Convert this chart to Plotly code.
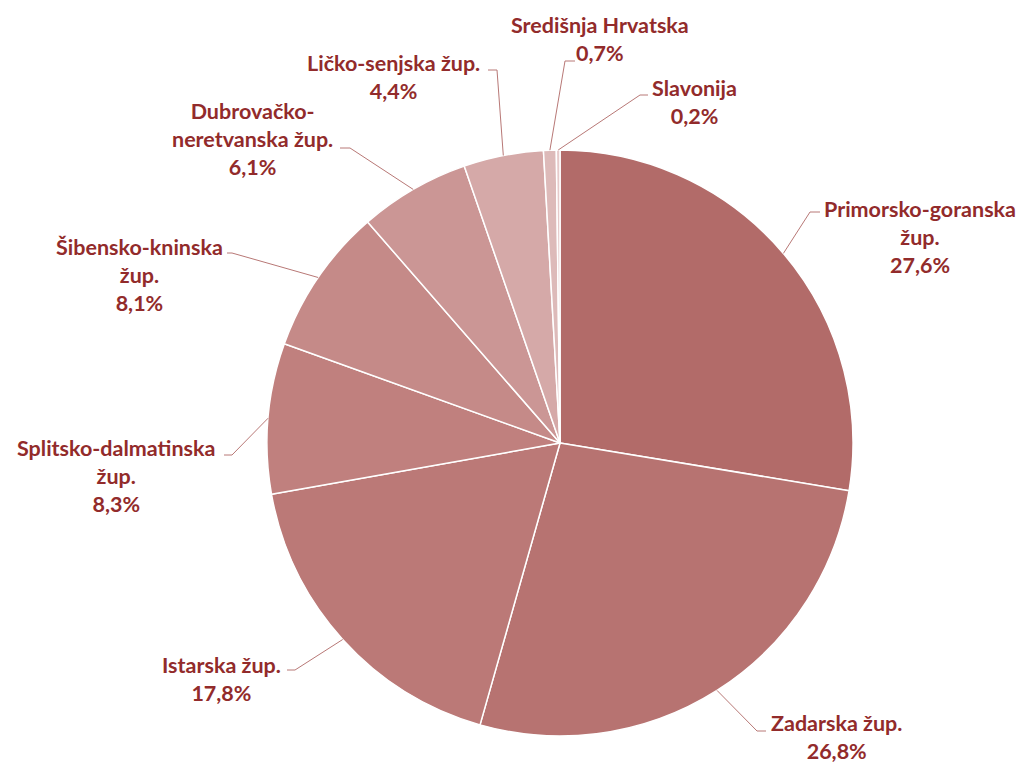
import math
import plotly.graph_objects as go

categories = ["Primorsko-goranska žup.", "Zadarska žup.", "Istarska žup.",
              "Splitsko-dalmatinska žup.", "Šibensko-kninska žup.",
              "Dubrovačko-neretvanska žup.", "Ličko-senjska žup.",
              "Središnja Hrvatska", "Slavonija"]
values = [27.6, 26.8, 17.8, 8.3, 8.1, 6.1, 4.4, 0.7, 0.2]
label_texts = ["Primorsko-goranska<br>žup.", "Zadarska žup.", "Istarska žup.",
               "Splitsko-dalmatinska<br>žup.", "Šibensko-kninska<br>žup.",
               "Dubrovačko-<br>neretvanska žup.", "Ličko-senjska žup.",
               "Središnja Hrvatska", "Slavonija"]
colors = ["#B26B69", "#B77371", "#BB7977", "#C0807E", "#C58A88",
          "#CB9695", "#D5A9A8", "#DDBAB9", "#E6CACA"]

# the page body has an 8px margin; work in window pixel coordinates
OFF = 8
WIN_W, WIN_H = 1026, 764
W, H = WIN_W - OFF, WIN_H - OFF
CX, CY, R = 560, 443, 293

# label layout (window pixels): elbow point, line end, text block centre
elbows = [(810, 212), (757, 731), (295, 670), (232, 455), (232, 253),
          (350, 148), (497, 70), (565, 61), (640, 95)]
ends = [(820, 212), (766, 731), (287, 670), (224, 455), (227, 253),
        (340, 148), (488, 70), (575, 61), (648, 95)]
text_pos = [(920, 237), (836, 737), (221, 679), (116, 476), (139, 275),
            (252, 139), (393, 77), (600, 39), (694, 102)]

fig = go.Figure()
fig.add_trace(go.Pie(
    labels=categories, values=values, sort=False, direction="clockwise",
    rotation=0, marker=dict(colors=colors, line=dict(color="white", width=1.5)),
    textinfo="none", hoverinfo="label+percent", showlegend=False,
    domain=dict(x=[(CX - R - OFF) / W, (CX + R - OFF) / W],
                y=[1 - (CY + R - OFF) / H, 1 - (CY - R - OFF) / H]),
))

total = sum(values)
cum = 0.0
shapes = []
annotations = []
font_color = "#922B2B"
for i, v in enumerate(values):
    mid = (cum + v / 2) / total * 2 * math.pi
    cum += v
    ex = CX + R * math.sin(mid)
    ey = CY - R * math.cos(mid)
    bx, by = elbows[i]
    lx, ly = ends[i]
    shapes.append(dict(type="path", xref="x", yref="y",
                       path=f"M {ex:.1f} {ey:.1f} L {bx} {by} L {lx} {ly}",
                       line=dict(color="#B87876", width=1)))
    tx, ty = text_pos[i]
    pct = f"{v:.1f}".replace(".", ",") + "%"
    annotations.append(dict(
        x=tx, y=ty, xref="x", yref="y", showarrow=False,
        text=f"<b>{label_texts[i]}<br>{pct}</b>", align="center",
        xanchor="center", yanchor="middle",
        font=dict(family="Lato, Open Sans, sans-serif", size=21.5, color=font_color),
    ))

fig.update_layout(
    width=W, height=H, margin=dict(l=0, r=0, t=0, b=0),
    paper_bgcolor="white", plot_bgcolor="rgba(0,0,0,0)",
    xaxis=dict(range=[OFF, WIN_W], visible=False, fixedrange=True),
    yaxis=dict(range=[WIN_H, OFF], visible=False, fixedrange=True),
    shapes=shapes, annotations=annotations,
)
fig.write_html("out.html")
